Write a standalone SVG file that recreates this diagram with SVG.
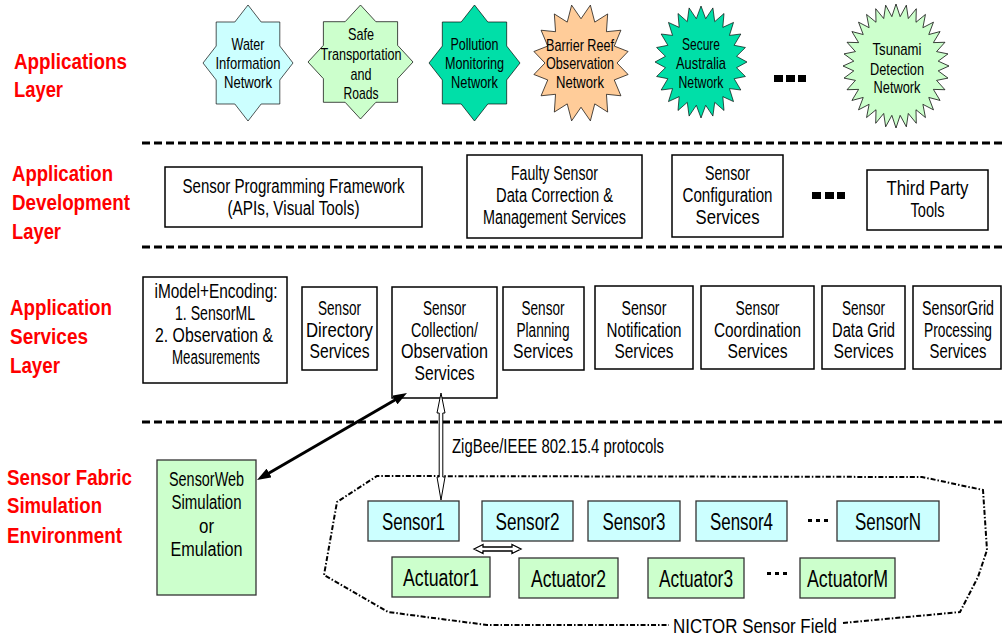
<svg xmlns="http://www.w3.org/2000/svg" width="1003" height="641" viewBox="0 0 1003 641">
<style>
  .bg{fill:#fff}
  .lbl{font-family:"Liberation Sans",Arial,sans-serif;font-weight:bold;font-size:22.5px;fill:#ff0000}
  .t{font-family:"Liberation Sans",Arial,sans-serif;font-size:19.5px;fill:#000;text-anchor:middle}
  .st{font-family:"Liberation Sans",Arial,sans-serif;font-size:17px;fill:#000;text-anchor:middle}
  .sn{font-family:"Liberation Sans",Arial,sans-serif;font-size:23px;fill:#000;text-anchor:middle}
  .box{fill:#fff;stroke:#000;stroke-width:1.5}
  .sensor{fill:#ccffff;stroke:#333;stroke-width:1.3}
  .act{fill:#ccffcc;stroke:#333;stroke-width:1.3}
  .star{stroke:#000;stroke-width:1.3;vector-effect:non-scaling-stroke}
  .sep{fill:none;stroke:#000;stroke-width:3;stroke-dasharray:8 4}
  .field{fill:none;stroke:#000;stroke-width:2;stroke-dasharray:5 2 1.5 2}
  .dots{fill:#000}
</style>
<defs>
  <polygon id="star8" points="0,-100 29.27,-70.68 70.71,-70.71 70.68,-29.27 100,0 70.68,29.27 70.71,70.71 29.27,70.68 0,100 -29.27,70.68 -70.71,70.71 -70.68,29.27 -100,0 -70.68,-29.27 -70.71,-70.71 -29.27,-70.68"/>
  <polygon id="star16" points="0,-75 19.51,-98.08 28.70,-69.29 55.56,-83.15 53.03,-53.03 83.15,-55.56 69.29,-28.70 98.08,-19.51 75,0 98.08,19.51 69.29,28.70 83.15,55.56 53.03,53.03 55.56,83.15 28.70,69.29 19.51,98.08 0,75 -19.51,98.08 -28.70,69.29 -55.56,83.15 -53.03,53.03 -83.15,55.56 -69.29,28.70 -98.08,19.51 -75,0 -98.08,-19.51 -69.29,-28.70 -83.15,-55.56 -53.03,-53.03 -55.56,-83.15 -28.70,-69.29 -19.51,-98.08"/>
  <polygon id="star24" points="0,-100 10.18,-77.33 25.88,-96.59 29.85,-72.06 50,-86.60 47.48,-61.88 70.71,-70.71 61.88,-47.48 86.60,-50 72.06,-29.85 96.59,-25.88 77.33,-10.18 100,0 77.33,10.18 96.59,25.88 72.06,29.85 86.60,50 61.88,47.48 70.71,70.71 47.48,61.88 50,86.60 29.85,72.06 25.88,96.59 10.18,77.33 0,100 -10.18,77.33 -25.88,96.59 -29.85,72.06 -50,86.60 -47.48,61.88 -70.71,70.71 -61.88,47.48 -86.60,50 -72.06,29.85 -96.59,25.88 -77.33,10.18 -100,0 -77.33,-10.18 -96.59,-25.88 -72.06,-29.85 -86.60,-50 -61.88,-47.48 -70.71,-70.71 -47.48,-61.88 -50,-86.60 -29.85,-72.06 -25.88,-96.59 -10.18,-77.33"/>
  <polygon id="star32" points="0,-100 7.84,-79.61 19.51,-98.08 23.22,-76.56 38.27,-92.39 37.71,-70.55 55.56,-83.15 50.75,-61.84 70.71,-70.71 61.84,-50.75 83.15,-55.56 70.55,-37.71 92.39,-38.27 76.56,-23.22 98.08,-19.51 79.61,-7.84 100,0 79.61,7.84 98.08,19.51 76.56,23.22 92.39,38.27 70.55,37.71 83.15,55.56 61.84,50.75 70.71,70.71 50.75,61.84 55.56,83.15 37.71,70.55 38.27,92.39 23.22,76.56 19.51,98.08 7.84,79.61 0,100 -7.84,79.61 -19.51,98.08 -23.22,76.56 -38.27,92.39 -37.71,70.55 -55.56,83.15 -50.75,61.84 -70.71,70.71 -61.84,50.75 -83.15,55.56 -70.55,37.71 -92.39,38.27 -76.56,23.22 -98.08,19.51 -79.61,7.84 -100,0 -79.61,-7.84 -98.08,-19.51 -76.56,-23.22 -92.39,-38.27 -70.55,-37.71 -83.15,-55.56 -61.84,-50.75 -70.71,-70.71 -50.75,-61.84 -55.56,-83.15 -37.71,-70.55 -38.27,-92.39 -23.22,-76.56 -19.51,-98.08 -7.84,-79.61"/>
  <marker id="head" viewBox="0 0 14 10" markerWidth="14" markerHeight="10" refX="4" refY="5" orient="auto-start-reverse" markerUnits="userSpaceOnUse">
    <path d="M0,0 L14,5 L0,10 z" fill="#000"/>
  </marker>
</defs>
<rect class="bg" x="0" y="0" width="1003" height="641"/>

<!-- layer titles -->
<g id="layer-titles">
  <text class="lbl" x="14" y="69" textLength="113" lengthAdjust="spacingAndGlyphs">Applications</text>
  <text class="lbl" x="14" y="97" textLength="49" lengthAdjust="spacingAndGlyphs">Layer</text>
  <text class="lbl" x="12" y="181" textLength="101" lengthAdjust="spacingAndGlyphs">Application</text>
  <text class="lbl" x="12" y="210" textLength="118" lengthAdjust="spacingAndGlyphs">Development</text>
  <text class="lbl" x="12" y="239" textLength="49" lengthAdjust="spacingAndGlyphs">Layer</text>
  <text class="lbl" x="10" y="315" textLength="102" lengthAdjust="spacingAndGlyphs">Application</text>
  <text class="lbl" x="10" y="344" textLength="78" lengthAdjust="spacingAndGlyphs">Services</text>
  <text class="lbl" x="10" y="373" textLength="50" lengthAdjust="spacingAndGlyphs">Layer</text>
  <text class="lbl" x="7" y="485" textLength="125" lengthAdjust="spacingAndGlyphs">Sensor Fabric</text>
  <text class="lbl" x="7" y="513" textLength="95" lengthAdjust="spacingAndGlyphs">Simulation</text>
  <text class="lbl" x="7" y="543" textLength="115" lengthAdjust="spacingAndGlyphs">Environment</text>
</g>

<!-- layer separators -->
<g id="separators">
  <line class="sep" x1="142" y1="143" x2="1003" y2="143"/>
  <line class="sep" x1="142" y1="247" x2="1003" y2="247"/>
  <line class="sep" x1="142" y1="422" x2="1003" y2="422"/>
</g>

<!-- applications layer -->
<g id="app-water">
  <use href="#star8" class="star" fill="#ccffff" transform="translate(248,63) scale(0.45,0.58)"/>
  <text class="st" x="248" y="50" textLength="33" lengthAdjust="spacingAndGlyphs">Water</text>
  <text class="st" x="248" y="69" textLength="65" lengthAdjust="spacingAndGlyphs">Information</text>
  <text class="st" x="248" y="88" textLength="48" lengthAdjust="spacingAndGlyphs">Network</text>
</g>
<g id="app-safe">
  <use href="#star8" class="star" fill="#ccffcc" transform="translate(360.5,62) scale(0.525,0.57)"/>
  <text class="st" x="361" y="40" textLength="26" lengthAdjust="spacingAndGlyphs">Safe</text>
  <text class="st" x="361" y="60" textLength="81" lengthAdjust="spacingAndGlyphs">Transportation</text>
  <text class="st" x="361" y="80" textLength="21" lengthAdjust="spacingAndGlyphs">and</text>
  <text class="st" x="361" y="99" textLength="35" lengthAdjust="spacingAndGlyphs">Roads</text>
</g>
<g id="app-pollution">
  <use href="#star8" class="star" fill="#00dfa8" transform="translate(474.5,63) scale(0.455,0.58)"/>
  <text class="st" x="474.5" y="50" textLength="48" lengthAdjust="spacingAndGlyphs">Pollution</text>
  <text class="st" x="474.5" y="69" textLength="59" lengthAdjust="spacingAndGlyphs">Monitoring</text>
  <text class="st" x="474.5" y="88" textLength="47" lengthAdjust="spacingAndGlyphs">Network</text>
</g>
<g id="app-reef">
  <use href="#star16" class="star" fill="#ffcc99" transform="translate(581,63) scale(0.48,0.59)"/>
  <text class="st" x="580" y="51" textLength="68" lengthAdjust="spacingAndGlyphs">Barrier Reef</text>
  <text class="st" x="580" y="69" textLength="68" lengthAdjust="spacingAndGlyphs">Observation</text>
  <text class="st" x="580" y="88" textLength="48" lengthAdjust="spacingAndGlyphs">Network</text>
</g>
<g id="app-secure">
  <use href="#star24" class="star" fill="#00dfa8" transform="translate(701,62) scale(0.46,0.56)"/>
  <text class="st" x="701" y="50" textLength="38" lengthAdjust="spacingAndGlyphs">Secure</text>
  <text class="st" x="701" y="69" textLength="50" lengthAdjust="spacingAndGlyphs">Australia</text>
  <text class="st" x="701" y="88" textLength="45" lengthAdjust="spacingAndGlyphs">Network</text>
</g>
<g id="app-more">
  <rect class="dots" x="774" y="75" width="9" height="7"/>
  <rect class="dots" x="786" y="75" width="9" height="7"/>
  <rect class="dots" x="798" y="75" width="8" height="7"/>
</g>
<g id="app-tsunami">
  <use href="#star32" class="star" fill="#ccffcc" transform="translate(896,66) scale(0.53,0.62)"/>
  <text class="st" x="897" y="55" textLength="49" lengthAdjust="spacingAndGlyphs">Tsunami</text>
  <text class="st" x="897" y="75" textLength="54" lengthAdjust="spacingAndGlyphs">Detection</text>
  <text class="st" x="897" y="93" textLength="47" lengthAdjust="spacingAndGlyphs">Network</text>
</g>

<!-- application development layer -->
<g id="dev-framework">
  <rect class="box" x="165" y="167" width="257" height="60"/>
  <text class="t" x="293.5" y="193" textLength="222" lengthAdjust="spacingAndGlyphs">Sensor Programming Framework</text>
  <text class="t" x="293.5" y="215" textLength="132" lengthAdjust="spacingAndGlyphs">(APIs, Visual Tools)</text>
</g>
<g id="dev-faulty">
  <rect class="box" x="467" y="155" width="175" height="83"/>
  <text class="t" x="554.5" y="180" textLength="87" lengthAdjust="spacingAndGlyphs">Faulty Sensor</text>
  <text class="t" x="554.5" y="202" textLength="117" lengthAdjust="spacingAndGlyphs">Data Correction &amp;</text>
  <text class="t" x="554.5" y="224" textLength="143" lengthAdjust="spacingAndGlyphs">Management Services</text>
</g>
<g id="dev-config">
  <rect class="box" x="672" y="155" width="111" height="82"/>
  <text class="t" x="727.5" y="180" textLength="45" lengthAdjust="spacingAndGlyphs">Sensor</text>
  <text class="t" x="727.5" y="202" textLength="90" lengthAdjust="spacingAndGlyphs">Configuration</text>
  <text class="t" x="727.5" y="224" textLength="64" lengthAdjust="spacingAndGlyphs">Services</text>
</g>
<g id="dev-more">
  <rect class="dots" x="812" y="192" width="9" height="7"/>
  <rect class="dots" x="825" y="192" width="9" height="7"/>
  <rect class="dots" x="837" y="192" width="8" height="7"/>
</g>
<g id="dev-thirdparty">
  <rect class="box" x="867" y="170" width="121" height="60"/>
  <text class="t" x="927.5" y="195" textLength="82" lengthAdjust="spacingAndGlyphs">Third Party</text>
  <text class="t" x="927.5" y="217" textLength="34" lengthAdjust="spacingAndGlyphs">Tools</text>
</g>

<!-- application services layer -->
<g id="svc-imodel">
  <rect class="box" x="143" y="277" width="144" height="106"/>
  <text class="t" x="216" y="298" textLength="123" lengthAdjust="spacingAndGlyphs">iModel+Encoding:</text>
  <text class="t" x="215" y="320" textLength="80" lengthAdjust="spacingAndGlyphs">1. SensorML</text>
  <text class="t" x="214" y="342" textLength="118" lengthAdjust="spacingAndGlyphs">2. Observation &amp;</text>
  <text class="t" x="216" y="364" textLength="88" lengthAdjust="spacingAndGlyphs">Measurements</text>
</g>
<g id="svc-directory">
  <rect class="box" x="302" y="287" width="75" height="83"/>
  <text class="t" x="339.5" y="315" textLength="43" lengthAdjust="spacingAndGlyphs">Sensor</text>
  <text class="t" x="339.5" y="337" textLength="67" lengthAdjust="spacingAndGlyphs">Directory</text>
  <text class="t" x="339.5" y="358" textLength="60" lengthAdjust="spacingAndGlyphs">Services</text>
</g>
<g id="svc-collection">
  <rect class="box" x="392" y="287" width="105" height="111"/>
  <text class="t" x="444.5" y="315" textLength="43" lengthAdjust="spacingAndGlyphs">Sensor</text>
  <text class="t" x="444.5" y="337" textLength="67" lengthAdjust="spacingAndGlyphs">Collection/</text>
  <text class="t" x="444.5" y="358" textLength="87" lengthAdjust="spacingAndGlyphs">Observation</text>
  <text class="t" x="444.5" y="380" textLength="60" lengthAdjust="spacingAndGlyphs">Services</text>
</g>
<g id="svc-planning">
  <rect class="box" x="503" y="287" width="81" height="83"/>
  <text class="t" x="543" y="315" textLength="43" lengthAdjust="spacingAndGlyphs">Sensor</text>
  <text class="t" x="543" y="337" textLength="53" lengthAdjust="spacingAndGlyphs">Planning</text>
  <text class="t" x="543" y="358" textLength="60" lengthAdjust="spacingAndGlyphs">Services</text>
</g>
<g id="svc-notification">
  <rect class="box" x="595" y="286" width="98" height="83"/>
  <text class="t" x="644" y="315" textLength="45" lengthAdjust="spacingAndGlyphs">Sensor</text>
  <text class="t" x="644" y="337" textLength="75" lengthAdjust="spacingAndGlyphs">Notification</text>
  <text class="t" x="644" y="358" textLength="59" lengthAdjust="spacingAndGlyphs">Services</text>
</g>
<g id="svc-coordination">
  <rect class="box" x="701" y="286" width="113" height="83"/>
  <text class="t" x="757.5" y="315" textLength="44" lengthAdjust="spacingAndGlyphs">Sensor</text>
  <text class="t" x="757.5" y="337" textLength="87" lengthAdjust="spacingAndGlyphs">Coordination</text>
  <text class="t" x="757.5" y="358" textLength="60" lengthAdjust="spacingAndGlyphs">Services</text>
</g>
<g id="svc-datagrid">
  <rect class="box" x="822" y="286" width="83" height="83"/>
  <text class="t" x="863.5" y="315" textLength="43" lengthAdjust="spacingAndGlyphs">Sensor</text>
  <text class="t" x="863.5" y="337" textLength="63" lengthAdjust="spacingAndGlyphs">Data Grid</text>
  <text class="t" x="863.5" y="358" textLength="60" lengthAdjust="spacingAndGlyphs">Services</text>
</g>
<g id="svc-sensorgrid">
  <rect class="box" x="913" y="286" width="88" height="83"/>
  <!-- horizontally condensed by transform to fit the narrow edge box -->
  <text class="t" transform="translate(958,315) scale(0.73,1)" x="0" y="0">SensorGrid</text>
  <text class="t" transform="translate(958,337) scale(0.705,1)" x="0" y="0">Processing</text>
  <text class="t" x="958" y="358" textLength="57" lengthAdjust="spacingAndGlyphs">Services</text>
</g>

<!-- sensor fabric -->
<g id="sim-sensorweb">
  <rect class="act" x="157" y="460" width="99" height="135"/>
  <text class="t" x="206.5" y="486" textLength="75" lengthAdjust="spacingAndGlyphs">SensorWeb</text>
  <text class="t" x="206.5" y="509" textLength="70" lengthAdjust="spacingAndGlyphs">Simulation</text>
  <text class="t" x="206.5" y="533" textLength="15" lengthAdjust="spacingAndGlyphs">or</text>
  <text class="t" x="206.5" y="556" textLength="72" lengthAdjust="spacingAndGlyphs">Emulation</text>
</g>

<g id="sensor-field">
  <path class="field" d="M843,623 L960,612 L978,577 L987,550 L983,490 L922,477 L377,476 L337,502 L324,575 L388,612 L487,625 L669,625"/>
  <text class="sn" x="755" y="633" style="font-size:21px" textLength="164" lengthAdjust="spacingAndGlyphs">NICTOR Sensor Field</text>
</g>

<g id="sensor1">
  <rect class="sensor" x="368" y="501" width="91" height="40"/>
  <text class="sn" x="413.5" y="530" textLength="63" lengthAdjust="spacingAndGlyphs">Sensor1</text>
</g>
<g id="sensor2">
  <rect class="sensor" x="482" y="501" width="91" height="40"/>
  <text class="sn" x="527.5" y="530" textLength="64" lengthAdjust="spacingAndGlyphs">Sensor2</text>
</g>
<g id="sensor3">
  <rect class="sensor" x="588" y="501" width="92" height="40"/>
  <text class="sn" x="634" y="530" textLength="63" lengthAdjust="spacingAndGlyphs">Sensor3</text>
</g>
<g id="sensor4">
  <rect class="sensor" x="696" y="501" width="91" height="40"/>
  <text class="sn" x="741.5" y="530" textLength="63" lengthAdjust="spacingAndGlyphs">Sensor4</text>
</g>
<g id="sensor-more">
  <rect class="dots" x="808" y="519" width="4" height="3"/>
  <rect class="dots" x="816" y="519" width="4" height="3"/>
  <rect class="dots" x="824" y="519" width="4" height="3"/>
</g>
<g id="sensorN">
  <rect class="sensor" x="837" y="501" width="102" height="40"/>
  <text class="sn" x="888" y="530" textLength="66" lengthAdjust="spacingAndGlyphs">SensorN</text>
</g>

<g id="actuator1">
  <rect class="act" x="392" y="557" width="98" height="40"/>
  <text class="sn" x="441" y="586" textLength="76" lengthAdjust="spacingAndGlyphs">Actuator1</text>
</g>
<g id="actuator2">
  <rect class="act" x="519" y="558" width="99" height="40"/>
  <text class="sn" x="568.5" y="587" textLength="75" lengthAdjust="spacingAndGlyphs">Actuator2</text>
</g>
<g id="actuator3">
  <rect class="act" x="648" y="558" width="96" height="40"/>
  <text class="sn" x="696" y="587" textLength="74" lengthAdjust="spacingAndGlyphs">Actuator3</text>
</g>
<g id="actuator-more">
  <rect class="dots" x="767" y="572" width="4" height="3"/>
  <rect class="dots" x="775" y="572" width="4" height="3"/>
  <rect class="dots" x="783" y="572" width="4" height="3"/>
</g>
<g id="actuatorM">
  <rect class="act" x="800" y="558" width="95" height="40"/>
  <text class="sn" x="847.5" y="587" textLength="81" lengthAdjust="spacingAndGlyphs">ActuatorM</text>
</g>

<!-- connectors -->
<g id="connectors">
  <line x1="265.65" y1="474.98" x2="398.35" y2="398.02" stroke="#000" stroke-width="3" marker-start="url(#head)" marker-end="url(#head)"/>
  <polygon points="441,393 445,413 442.8,413 442.8,477 445,477 441,500 437,477 439.2,477 439.2,413 437,413" fill="#fff" stroke="#000" stroke-width="1"/>
  <polygon points="474,549 483,544.5 483,547 512,547 512,544.5 521,549 512,553.5 512,551 483,551 483,553.5" fill="#fff" stroke="#000" stroke-width="1.3"/>
  <text class="t" x="452" y="453" style="text-anchor:start" textLength="212" lengthAdjust="spacingAndGlyphs">ZigBee/IEEE 802.15.4 protocols</text>
</g>
</svg>
